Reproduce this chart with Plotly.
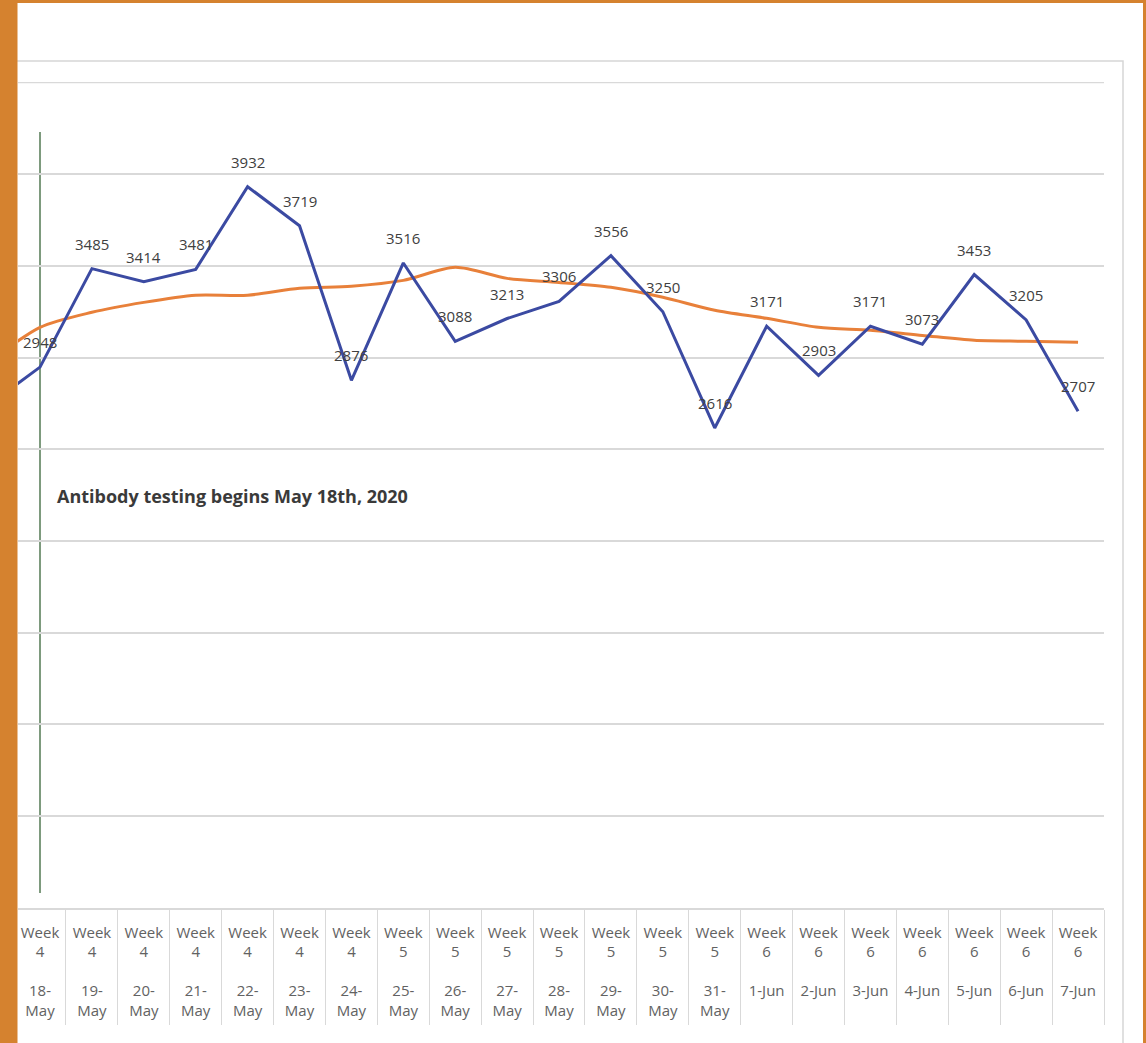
import plotly.graph_objects as go

# Daily test counts around the start of antibody testing (first entry is the day before 18-May)
dates = ["17-May", "18-May", "19-May", "20-May", "21-May", "22-May", "23-May", "24-May",
         "25-May", "26-May", "27-May", "28-May", "29-May", "30-May", "31-May",
         "1-Jun", "2-Jun", "3-Jun", "4-Jun", "5-Jun", "6-Jun", "7-Jun"]
weeks = [3, 4, 4, 4, 4, 4, 4, 4, 5, 5, 5, 5, 5, 5, 5, 6, 6, 6, 6, 6, 6, 6]
daily_tests = [2740, 2948, 3485, 3414, 3481, 3932, 3719, 2876, 3516, 3088, 3213, 3306,
               3556, 3250, 2616, 3171, 2903, 3171, 3073, 3453, 3205, 2707]
moving_avg = [2970, 3165, 3247, 3301, 3340, 3340, 3378, 3389, 3421, 3492, 3432, 3410,
              3383, 3329, 3258, 3214, 3165, 3149, 3121, 3094, 3089, 3083]

marker_note = "Antibody testing begins May 18th, 2020"
y_max = 4500

x = list(range(-1, len(dates) - 1))


def tick_text(week, date):
    day, month = date.split("-")
    date_part = f"{day}-<br>{month}" if month == "May" else date
    return f"Week<br>{week}<br><br>{date_part}"


ticktext = [tick_text(w, d) for w, d in zip(weeks, dates)]

FONT = "Open Sans"
BLUE = "#3B4AA2"
ORANGE = "#E8803A"
GRID = "#d9d9d9"

fig = go.Figure()

fig.add_trace(go.Scatter(
    x=x, y=moving_avg, mode="lines",
    line=dict(color=ORANGE, width=3, shape="spline", smoothing=0.8),
    hoverinfo="skip", showlegend=False,
))
fig.add_trace(go.Scatter(
    x=x, y=daily_tests, mode="lines",
    line=dict(color=BLUE, width=3),
    showlegend=False,
))

# value labels above each visible day
for xi, v in zip(x, daily_tests):
    if xi < 0:
        continue
    fig.add_annotation(
        x=xi, y=v, text=str(v), showarrow=False,
        yanchor="middle", yshift=25,
        font=dict(family=FONT, size=15, color="#404040"),
    )

# vertical marker at the start of antibody testing
fig.add_shape(type="line", xref="x", yref="y", x0=0, x1=0, y0=80, y1=4230,
              line=dict(color="#7d9a7d", width=2), layer="below")
fig.add_annotation(
    x=0.29, y=2245, xref="x", yref="y", text=marker_note, showarrow=False,
    xanchor="left", yanchor="middle",
    font=dict(family=FONT, size=18, color="#3a3a3a", weight="bold"),
)

# gridline at the top of the value range (sits on the plot edge)
fig.add_shape(type="line", xref="paper", yref="y", x0=0, x1=1, y0=y_max, y1=y_max,
              line=dict(color=GRID, width=1.5), layer="below")

# card outline
fig.add_shape(type="rect", xref="paper", yref="paper",
              x0=-0.03, x1=(1123 - 18) / 1086, y0=(908 - 1060) / 826, y1=(908 - 61) / 826,
              line=dict(color="#d6d6d6", width=1.5), layer="below")

# orange frame
for x0, x1, y0, y1 in [(0, 17.5, 0, 1043), (0, 1146, 0, 3), (1143, 1146, 0, 1043)]:
    fig.add_shape(type="rect", xref="paper", yref="paper",
                  x0=(x0 - 18) / 1086, x1=(x1 - 18) / 1086,
                  y0=(908 - y1) / 826, y1=(908 - y0) / 826,
                  line=dict(width=0), fillcolor="#D5822F", layer="above")

fig.update_xaxes(
    range=[-0.424, 20.5],
    tickmode="array", tickvals=x, ticktext=ticktext,
    tickfont=dict(family=FONT, size=15, color="#626262"),
    ticks="", ticklabelstandoff=10, showgrid=False, zeroline=False,
    showline=True, linecolor=GRID, linewidth=1.5,
    minor=dict(tickmode="linear", tick0=0.5, dtick=1, ticks="outside",
               ticklen=115, tickcolor=GRID, tickwidth=1, showgrid=False),
)
fig.update_yaxes(
    range=[-2, y_max + 3], dtick=500, showticklabels=False,
    showgrid=True, gridcolor=GRID, gridwidth=1.5, zeroline=False, showline=False,
)

fig.update_layout(
    width=1146, height=1043,
    margin=dict(l=18, r=42, t=82, b=135),
    paper_bgcolor="white", plot_bgcolor="white",
    font=dict(family=FONT),
    showlegend=False,
)

fig.write_html("out.html")
